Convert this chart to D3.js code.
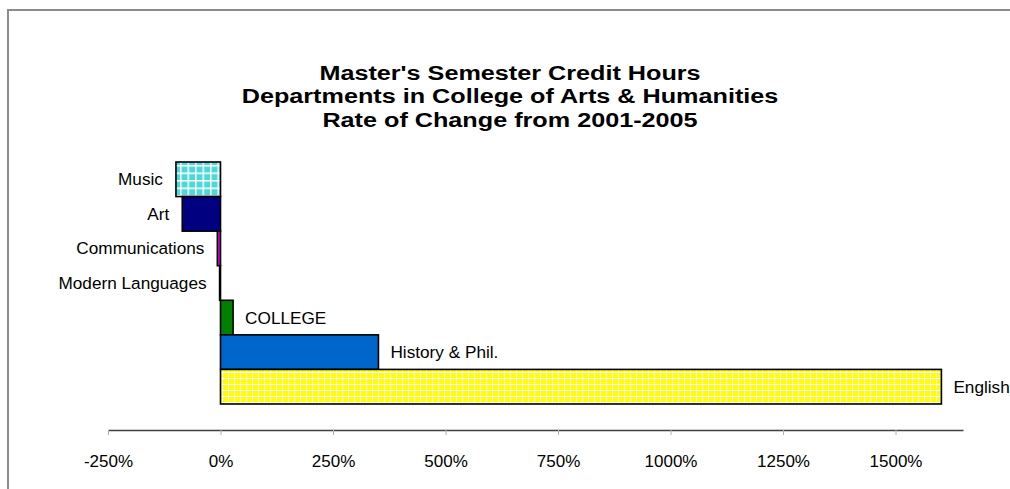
<!DOCTYPE html>
<html>
<head>
<meta charset="utf-8">
<script src="https://cdn.jsdelivr.net/npm/d3@7"></script>
<style>
  html, body { margin: 0; padding: 0; background: #fff; overflow: hidden; }
  svg { display: block; font-family: Arial, "Liberation Sans", sans-serif; }
</style>
</head>
<body>
<svg id="chart" width="1010" height="489"></svg>
<script>
const titleLines = [
  "Master's Semester Credit Hours",
  "Departments in College of Arts & Humanities",
  "Rate of Change from 2001-2005"
];
const categories = ["Music", "Art", "Communications", "Modern Languages", "COLLEGE", "History & Phil.", "English"];
const values = [-99, -85, -7, -2, 28, 351, 1602];
const fills = ["url(#patMusic)", "#000080", "#DD00DD", "#808080", "#008000", "#0066CC", "url(#patEnglish)"];
const tickValues = [-250, 0, 250, 500, 750, 1000, 1250, 1500];
const tickLabels = ["-250%", "0%", "250%", "500%", "750%", "1000%", "1250%", "1500%"];

const svg = d3.select("#chart");
const W = 1010, H = 489;

// patterns
const defs = svg.append("defs");
function gridPattern(id, color, size, line) {
  const p = defs.append("pattern").attr("id", id).attr("patternUnits", "userSpaceOnUse")
    .attr("width", size).attr("height", size);
  p.append("rect").attr("width", size).attr("height", size).attr("fill", "#fff");
  p.append("rect").attr("x", line).attr("y", line).attr("width", size - line).attr("height", size - line).attr("fill", color);
}
gridPattern("patMusic", "#4FD8D8", 7.5, 1.5);
gridPattern("patEnglish", "#FFFF00", 6, 1);

// frame (top and left edges; the rest lies outside the picture)
svg.append("path").attr("d", `M8,${H} V10 H${W}`)
  .attr("fill", "none").attr("stroke", "#8c8c8c").attr("stroke-width", 2);

// title (slightly wide-set, as in the reference)
svg.append("g").attr("transform", "translate(510,0) scale(1.2,1)")
  .selectAll("text").data(titleLines).join("text")
  .attr("x", 0).attr("y", (d, i) => 80 + i * 23.5)
  .attr("text-anchor", "middle").attr("font-weight", "bold").attr("font-size", 21)
  .attr("fill", "#000").text(d => d);

const x = d3.scaleLinear().domain([-250, 1650]).range([108, 963]);
const y = d3.scaleBand().domain(categories).range([162, 404]).padding(0);

// axis
const axis = d3.axisBottom(x).tickValues(tickValues).tickFormat((d, i) => tickLabels[i]).tickSize(5).tickSizeOuter(0);
const ag = svg.append("g").attr("transform", "translate(0,430)").call(axis);
ag.select(".domain").attr("stroke", "#404040").attr("stroke-width", 1.5);
ag.selectAll(".tick line").attr("stroke", "#b0b0b0");
ag.selectAll(".tick text").attr("font-size", 17).attr("font-family", "Arial, 'Liberation Sans', sans-serif")
  .attr("fill", "#000").attr("y", 25).attr("dy", "0.71em");

// bars
svg.append("g").selectAll("rect").data(categories).join("rect")
  .attr("x", (d, i) => x(Math.min(0, values[i])))
  .attr("y", d => y(d))
  .attr("width", (d, i) => Math.abs(x(values[i]) - x(0)))
  .attr("height", y.bandwidth())
  .attr("fill", (d, i) => fills[i])
  .attr("stroke", "#000").attr("stroke-width", 1.6);

// labels
svg.append("g").selectAll("text").data(categories).join("text")
  .attr("x", (d, i) => values[i] < 0 ? x(values[i]) - 13 : x(values[i]) + 12)
  .attr("y", d => y(d) + y.bandwidth() / 2)
  .attr("dy", "0.35em")
  .attr("text-anchor", (d, i) => values[i] < 0 ? "end" : "start")
  .attr("font-size", 17.2).attr("fill", "#000").text(d => d);
</script>
</body>
</html>
